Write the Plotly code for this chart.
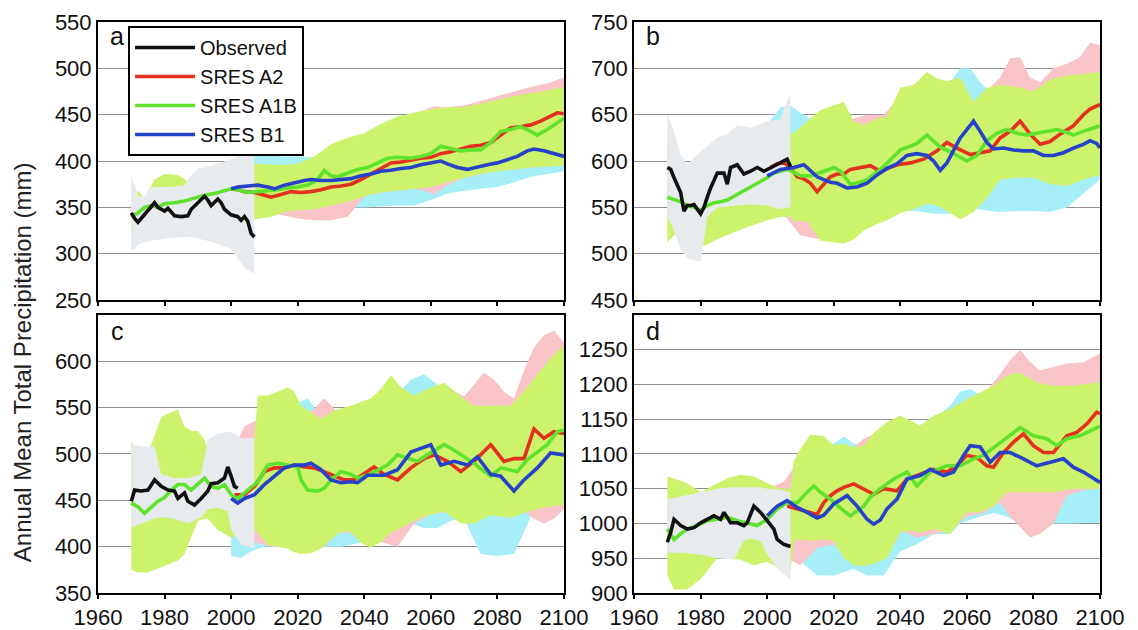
import plotly.graph_objects as go
from plotly.subplots import make_subplots

# ---------------- tick labels ----------------
x_ticks = [1960, 1980, 2000, 2020, 2040, 2060, 2080, 2100]
a_yticks = [250, 300, 350, 400, 450, 500, 550]
b_yticks = [450, 500, 550, 600, 650, 700, 750]
c_yticks = [350, 400, 450, 500, 550, 600]
d_yticks = [900, 950, 1000, 1050, 1100, 1150, 1200, 1250]
series_names = ["Observed", "SRES A2", "SRES A1B", "SRES B1"]

# ================= PANEL a =================
a_obs_yr = [1970,1971,1972,1974,1976,1977,1978,1980,1981,1983,1985,1987,1988,1990,1992,1993,1994,1996,1997,1998,2000,2002,2003,2004,2005,2006,2007]
a_obs = [344,338,334,342,350,355,350,346,349,341,340,341,348,355,362,358,352,359,355,348,342,340,336,340,335,322,318]
a_a1b_yr = [1970,1972,1974,1976,1978,1980,1983,1986,1989,1992,1995,1998,2000,2002,2005,2008,2011,2014,2017,2020,2023,2026,2028,2030,2032,2035,2038,2041,2044,2047,2050,2054,2057,2060,2063,2066,2069,2072,2075,2078,2081,2084,2087,2090,2092,2095,2098,2100]
a_a1b = [340,344,350,352,350,354,355,357,360,363,365,368,370,369,366,367,368,369,371,372,374,380,390,384,383,387,391,393,398,403,404,403,405,408,416,413,411,412,412,420,432,434,437,432,428,434,441,446]
a_a2_yr = [2000,2002,2004,2007,2010,2012,2015,2018,2021,2024,2027,2030,2033,2036,2039,2042,2045,2048,2051,2054,2057,2060,2063,2066,2069,2072,2075,2078,2081,2084,2087,2090,2093,2096,2098,2100]
a_a2 = [370,369,367,366,363,361,364,367,366,367,369,372,373,375,380,386,393,398,399,401,403,404,408,410,413,416,417,420,428,436,437,439,443,448,452,451]
a_b1_yr = [2000,2002,2005,2008,2011,2013,2016,2019,2022,2024,2027,2030,2033,2036,2039,2042,2045,2048,2051,2054,2057,2060,2063,2065,2068,2071,2074,2077,2080,2083,2086,2089,2091,2094,2097,2100]
a_b1 = [370,372,373,374,372,370,374,377,379,380,379,379,380,381,384,386,389,390,392,393,396,398,400,397,393,391,394,396,398,402,405,411,413,411,408,405]

a_gray_yr = [1970,1971,1972,1974,1976,1978,1982,1986,1988,1990,1995,2000,2004,2007]
a_gray_hi = [383,375,362,362,372,372,372,374,385,392,396,402,408,405]
a_gray_lo = [303,305,310,312,314,315,317,318,318,316,312,305,285,278]
a_green_yr = [1970,1972,1974,1977,1980,1984,1987,1990,1995,2000,2004,2007,2008,2012,2016,2020,2025,2030,2035,2040,2045,2050,2055,2060,2065,2070,2075,2080,2085,2090,2095,2100]
a_green_hi = [355,368,360,380,386,385,378,380,385,395,398,398,397,396,396,397,405,418,425,430,440,448,452,456,458,458,462,466,470,473,476,480]
a_green_lo = [320,322,324,325,325,325,325,325,323,320,330,337,338,340,345,347,348,352,356,362,366,368,370,372,377,382,386,389,391,393,394,395]
a_pink_yr = [2000,2005,2010,2015,2020,2025,2030,2035,2040,2045,2050,2055,2058,2061,2064,2070,2075,2080,2085,2090,2095,2100]
a_pink_hi = [385,390,393,393,395,400,412,420,428,435,445,452,455,459,458,460,465,470,475,480,484,490]
a_pink_lo = [345,345,345,342,338,336,336,340,362,366,368,370,368,364,372,382,386,389,391,393,394,395]
a_cyan_yr = [2000,2005,2010,2015,2020,2025,2030,2035,2040,2045,2050,2055,2060,2065,2070,2075,2080,2085,2090,2095,2100]
a_cyan_hi = [400,405,406,405,405,404,405,410,415,420,425,430,432,434,436,438,440,442,444,446,448]
a_cyan_lo = [345,345,345,348,350,350,350,350,350,351,352,352,358,365,368,370,372,377,383,386,389]

# ================= PANEL b =================
b_obs_yr = [1970,1971,1972,1974,1975,1976,1977,1978,1980,1981,1982,1983,1985,1987,1988,1989,1991,1993,1995,1997,1999,2001,2003,2005,2006,2007]
b_obs = [593,591,582,566,546,552,552,553,543,550,561,571,587,587,575,593,596,586,589,593,589,593,596,600,602,594]
b_a1b_yr = [1970,1972,1974,1976,1978,1980,1982,1984,1986,1988,1990,1992,1994,1996,1998,2000,2002,2004,2006,2008,2010,2013,2016,2018,2020,2022,2025,2028,2030,2033,2035,2038,2040,2043,2045,2048,2050,2052,2055,2057,2060,2063,2066,2069,2072,2075,2078,2081,2084,2087,2090,2092,2095,2098,2100]
b_a1b = [561,559,556,552,550,547,552,555,556,558,562,566,569,573,577,582,587,589,591,588,584,584,587,590,593,589,575,577,580,588,594,605,612,616,619,628,622,615,610,606,600,606,622,630,634,630,628,630,632,634,631,628,632,635,638]
b_a2_yr = [2001,2003,2005,2007,2009,2011,2013,2015,2017,2019,2021,2023,2025,2028,2031,2034,2036,2039,2043,2047,2051,2054,2057,2061,2064,2067,2070,2073,2076,2079,2082,2085,2088,2092,2095,2097,2100]
b_a2 = [593,597,598,593,583,581,576,567,575,583,586,586,591,593,595,589,592,596,598,602,611,620,614,607,609,611,625,632,643,629,618,621,629,638,650,656,661]
b_b1_yr = [2000,2002,2004,2006,2008,2011,2013,2015,2017,2019,2021,2024,2027,2030,2033,2036,2039,2042,2045,2048,2050,2052,2054,2056,2058,2060,2062,2064,2066,2068,2071,2074,2077,2080,2083,2086,2089,2092,2095,2097,2099,2100]
b_b1 = [584,588,591,592,593,596,590,583,580,577,576,571,572,576,585,592,597,606,608,606,600,590,598,612,625,634,643,632,620,613,614,612,611,611,606,606,609,614,618,622,619,614]

b_gray_yr = [1970,1972,1974,1976,1978,1980,1982,1985,1988,1991,1995,2000,2004,2006,2007]
b_gray_hi = [650,632,607,596,604,610,615,625,629,639,636,643,645,665,672]
b_gray_lo = [540,525,505,495,493,492,540,550,551,552,553,552,548,550,550]
b_green_yr = [1970,1972,1975,1978,1980,1982,1985,1990,1995,2000,2004,2007,2008,2012,2016,2020,2023,2026,2029,2033,2036,2040,2044,2048,2051,2054,2058,2062,2066,2070,2075,2080,2085,2090,2095,2100]
b_green_hi = [620,610,590,595,600,605,610,620,620,625,628,630,630,643,655,660,664,643,639,646,648,679,682,696,689,686,690,664,679,682,680,675,688,692,694,696]
b_green_lo = [512,520,525,520,507,510,516,523,530,536,540,540,535,535,514,512,511,515,525,532,536,544,548,554,552,546,537,545,560,580,582,582,575,573,580,585]
b_pink_yr = [2000,2005,2010,2015,2020,2025,2030,2035,2040,2045,2050,2055,2060,2065,2070,2073,2076,2079,2082,2086,2090,2094,2097,2100]
b_pink_hi = [620,625,632,648,652,645,650,650,670,675,685,680,660,672,690,711,712,690,685,700,705,712,728,725]
b_pink_lo = [545,542,520,516,518,520,530,540,548,552,556,552,545,565,585,585,585,585,585,580,578,582,585,588]
b_cyan_yr = [2000,2004,2007,2010,2013,2016,2020,2025,2030,2035,2040,2045,2050,2055,2058,2061,2064,2067,2070,2075,2080,2085,2090,2095,2100]
b_cyan_hi = [640,658,660,652,645,650,655,640,635,640,670,675,680,685,700,700,685,675,675,672,670,680,685,688,690]
b_cyan_lo = [545,540,540,540,540,535,530,530,538,544,546,546,543,543,545,548,548,546,545,546,546,545,550,565,580]

# ================= PANEL c =================
c_obs_yr = [1970,1971,1973,1975,1977,1979,1981,1983,1984,1986,1987,1989,1991,1993,1994,1996,1998,1999,2000,2001,2002]
c_obs = [449,461,460,461,472,465,461,460,452,458,449,445,452,460,468,469,474,486,476,465,463]
c_a1b_yr = [1970,1972,1974,1976,1978,1980,1982,1984,1986,1988,1990,1992,1994,1996,1998,2000,2002,2005,2008,2011,2014,2017,2020,2021,2023,2026,2028,2030,2033,2036,2038,2041,2044,2047,2050,2053,2056,2059,2062,2064,2067,2070,2073,2075,2078,2081,2084,2086,2089,2092,2095,2098,2100]
c_a1b = [447,443,436,442,449,453,461,467,467,461,467,474,465,463,467,456,452,461,470,488,490,488,486,472,461,460,463,472,481,478,474,477,483,488,499,495,492,499,505,510,504,497,490,484,476,485,482,481,494,502,510,524,526]
c_a2_yr = [2001,2004,2007,2010,2013,2016,2019,2022,2025,2028,2031,2034,2037,2040,2043,2046,2050,2054,2058,2061,2065,2069,2073,2078,2082,2085,2088,2091,2094,2097,2100]
c_a2 = [456,456,465,481,485,485,488,486,485,481,476,472,472,479,486,478,472,485,495,499,492,481,492,510,492,495,495,527,517,524,522]
c_b1_yr = [2000,2002,2004,2007,2010,2013,2016,2019,2022,2024,2027,2030,2033,2036,2038,2041,2046,2050,2054,2057,2060,2063,2067,2071,2074,2078,2081,2085,2088,2092,2096,2100]
c_b1 = [452,447,452,456,467,476,485,488,488,490,483,472,469,470,469,477,477,483,502,506,510,488,492,488,497,478,476,460,472,485,501,499]

c_gray_yr = [1970,1973,1977,1979,1983,1987,1991,1993,1996,1999,2000,2003,2007]
c_gray_hi = [511,508,508,478,474,474,478,515,522,524,524,517,517]
c_gray_lo = [420,425,430,432,430,425,432,440,442,438,418,402,398]
c_green_yr = [1970,1972,1975,1977,1979,1982,1984,1986,1988,1990,1992,1993,1996,2000,2004,2007,2008,2011,2014,2017,2019,2021,2024,2027,2030,2033,2036,2039,2042,2045,2048,2051,2055,2059,2064,2069,2073,2078,2084,2089,2094,2097,2100]
c_green_hi = [513,505,500,520,540,545,548,530,525,525,515,505,505,515,515,515,563,563,567,572,567,552,545,538,545,549,552,556,560,570,585,572,563,570,577,562,552,552,552,572,595,607,617]
c_green_lo = [375,372,372,375,378,382,385,392,410,428,430,430,418,410,415,418,415,402,400,398,394,392,393,398,408,416,416,404,399,405,415,420,428,434,438,425,425,434,431,438,442,444,445]
c_pink_yr = [2000,2004,2007,2012,2016,2020,2024,2028,2032,2036,2040,2045,2050,2055,2060,2065,2070,2073,2076,2079,2082,2085,2088,2091,2094,2097,2100]
c_pink_hi = [500,530,535,545,550,550,545,560,545,550,555,565,570,560,565,572,562,575,588,580,567,560,590,615,628,633,620]
c_pink_lo = [420,405,405,400,400,395,395,400,415,415,402,405,400,425,435,438,425,425,435,434,432,432,438,430,425,430,440]
c_cyan_yr = [2000,2003,2006,2010,2015,2020,2023,2026,2030,2033,2036,2040,2045,2050,2054,2058,2062,2066,2070,2075,2080,2085,2090,2095,2100]
c_cyan_hi = [495,505,515,540,545,555,560,545,535,540,545,550,555,565,580,586,575,560,550,560,565,548,560,580,600]
c_cyan_lo = [390,388,395,400,400,396,394,400,400,400,402,405,410,418,425,420,420,428,430,392,390,392,432,440,445]

# ================= PANEL d =================
d_obs_yr = [1970,1971,1972,1974,1976,1978,1980,1982,1984,1986,1987,1989,1991,1993,1994,1996,1998,2000,2002,2003,2005,2007]
d_obs = [973,987,1006,997,992,994,1001,1006,1011,1006,1016,1001,1001,997,1001,1025,1016,1004,992,977,970,967]
d_a1b_yr = [1970,1972,1974,1976,1979,1982,1985,1988,1991,1994,1997,2000,2003,2006,2009,2012,2014,2016,2019,2022,2025,2029,2031,2034,2038,2042,2045,2049,2054,2058,2062,2065,2069,2073,2076,2080,2084,2087,2090,2094,2099,2100]
d_a1b = [992,977,985,992,997,1004,1006,1009,1004,1001,997,1006,1021,1030,1030,1045,1054,1045,1035,1022,1011,1025,1038,1050,1064,1074,1054,1074,1083,1083,1093,1098,1112,1126,1138,1126,1122,1112,1122,1126,1138,1140]
d_a2_yr = [2006,2009,2012,2015,2017,2019,2021,2023,2026,2029,2032,2035,2039,2042,2046,2050,2054,2057,2060,2063,2066,2068,2071,2074,2077,2080,2083,2086,2090,2093,2096,2099,2100]
d_a2 = [1025,1021,1016,1013,1030,1040,1047,1052,1057,1050,1042,1050,1047,1064,1071,1078,1074,1083,1098,1095,1083,1081,1102,1117,1129,1112,1102,1102,1126,1131,1143,1160,1158]
d_b1_yr = [2000,2003,2006,2009,2012,2015,2017,2020,2024,2027,2030,2032,2034,2036,2039,2042,2046,2049,2053,2056,2059,2061,2064,2067,2070,2073,2077,2081,2085,2089,2092,2095,2098,2100]
d_b1 = [1011,1025,1033,1023,1016,1008,1012,1028,1040,1025,1006,999,1005,1021,1035,1064,1069,1078,1069,1074,1098,1112,1110,1088,1102,1102,1093,1083,1088,1093,1081,1074,1065,1059]

d_gray_yr = [1970,1975,1980,1985,1990,1993,1995,1998,2000,2004,2007]
d_gray_hi = [1035,1040,1045,1050,1052,1052,1052,1052,1050,1048,1045]
d_gray_lo = [958,958,955,950,948,975,978,975,955,930,920]
d_green_yr = [1970,1972,1976,1980,1985,1988,1992,1996,2000,2004,2007,2008,2010,2013,2017,2020,2023,2026,2029,2032,2036,2040,2043,2046,2050,2055,2060,2064,2068,2072,2076,2081,2086,2092,2100]
d_green_hi = [1068,1065,1058,1045,1058,1065,1070,1068,1058,1050,1050,1090,1107,1128,1126,1112,1115,1110,1112,1130,1146,1155,1148,1141,1155,1165,1179,1189,1198,1213,1217,1203,1198,1198,1203]
d_green_lo = [925,905,905,920,950,950,948,940,945,935,930,975,977,975,977,975,950,940,939,942,950,987,990,987,992,985,1016,1016,1025,1045,1045,1045,1045,1050,1050]
d_pink_yr = [2000,2005,2008,2010,2015,2020,2025,2029,2035,2040,2045,2050,2055,2060,2065,2070,2073,2076,2079,2082,2086,2090,2095,2100]
d_pink_hi = [1050,1060,1080,1100,1115,1108,1105,1122,1135,1145,1140,1150,1160,1170,1185,1215,1235,1250,1232,1220,1225,1230,1232,1245]
d_pink_lo = [960,950,945,940,965,970,945,945,955,990,980,985,990,1010,1015,1030,1010,995,980,985,1000,1040,1048,1050]
d_cyan_yr = [2000,2005,2010,2015,2020,2023,2026,2030,2035,2040,2045,2050,2055,2058,2061,2064,2068,2072,2076,2080,2085,2090,2095,2100]
d_cyan_hi = [1045,1055,1095,1110,1115,1125,1115,1110,1130,1145,1135,1150,1170,1190,1193,1185,1190,1200,1205,1195,1190,1190,1195,1195]
d_cyan_lo = [960,960,945,925,925,930,935,925,925,960,970,985,985,1000,1005,1010,1015,1010,1000,1005,1000,1000,1000,1001]

# ---------------- styling ----------------
PINK = "#f9c4c7"
CYAN = "#a6eef8"
GREEN_FILL = "#cdf36c"
GRAY_FILL = "#e7ebee"
RED = "#e3301f"
GREEN_LINE = "#5fe22c"
BLUE = "#2642c8"
BLACK = "#111111"
FONT = "Liberation Sans, Arial, sans-serif"

fig = make_subplots(rows=2, cols=2, horizontal_spacing=0.07, vertical_spacing=0.026)


def band(yr, lo, hi, color, row, col):
    fig.add_trace(go.Scatter(x=yr + yr[::-1], y=hi + lo[::-1], fill="toself",
                             fillcolor=color, line=dict(width=0), mode="lines",
                             hoverinfo="skip", showlegend=False), row=row, col=col)


def line(yr, vals, color, name, rank, row, col, show):
    fig.add_trace(go.Scatter(x=yr, y=vals, mode="lines", name=name,
                             line=dict(color=color, width=3.6), legendrank=rank,
                             legendgroup=name, showlegend=show), row=row, col=col)


panels = [
    (1, 1, [250, 550], a_yticks,
     (a_cyan_yr, a_cyan_lo, a_cyan_hi), (a_pink_yr, a_pink_lo, a_pink_hi),
     (a_green_yr, a_green_lo, a_green_hi), (a_gray_yr, a_gray_lo, a_gray_hi),
     (a_a2_yr, a_a2), (a_a1b_yr, a_a1b), (a_b1_yr, a_b1), (a_obs_yr, a_obs)),
    (1, 2, [450, 750], b_yticks,
     (b_cyan_yr, b_cyan_lo, b_cyan_hi), (b_pink_yr, b_pink_lo, b_pink_hi),
     (b_green_yr, b_green_lo, b_green_hi), (b_gray_yr, b_gray_lo, b_gray_hi),
     (b_a2_yr, b_a2), (b_a1b_yr, b_a1b), (b_b1_yr, b_b1), (b_obs_yr, b_obs)),
    (2, 1, [350, 650], c_yticks,
     (c_cyan_yr, c_cyan_lo, c_cyan_hi), (c_pink_yr, c_pink_lo, c_pink_hi),
     (c_green_yr, c_green_lo, c_green_hi), (c_gray_yr, c_gray_lo, c_gray_hi),
     (c_a2_yr, c_a2), (c_a1b_yr, c_a1b), (c_b1_yr, c_b1), (c_obs_yr, c_obs)),
    (2, 2, [900, 1300], d_yticks,
     (d_cyan_yr, d_cyan_lo, d_cyan_hi), (d_pink_yr, d_pink_lo, d_pink_hi),
     (d_green_yr, d_green_lo, d_green_hi), (d_gray_yr, d_gray_lo, d_gray_hi),
     (d_a2_yr, d_a2), (d_a1b_yr, d_a1b), (d_b1_yr, d_b1), (d_obs_yr, d_obs)),
]

for (row, col, yr_range, yticks, cyan, pink, green, gray,
     a2, a1b, b1, obs) in panels:
    show = (row == 1 and col == 1)
    band(*cyan, CYAN, row, col)
    band(*pink, PINK, row, col)
    band(*green, GREEN_FILL, row, col)
    band(*gray, GRAY_FILL, row, col)
    line(*a2, RED, series_names[1], 2, row, col, show)
    line(*a1b, GREEN_LINE, series_names[2], 3, row, col, show)
    line(*b1, BLUE, series_names[3], 4, row, col, show)
    line(*obs, BLACK, series_names[0], 1, row, col, show)

    fig.update_xaxes(range=[1960, 2100], tickvals=x_ticks, ticks="outside",
                     ticklen=4, tickwidth=2, tickcolor="black",
                     showticklabels=(row == 2), showgrid=False, zeroline=False,
                     showline=True, linecolor="black", linewidth=2, mirror=True,
                     automargin=False, ticklabeloverflow="allow",
                     tickfont=dict(size=22, color="#111", family=FONT),
                     row=row, col=col)
    fig.update_yaxes(range=yr_range, tickvals=yticks, ticks="",
                     showgrid=True, gridcolor="#8f8f8f", gridwidth=1.3,
                     zeroline=False, showline=True, linecolor="black",
                     linewidth=2, mirror=True, automargin=False,
                     ticklabeloverflow="allow",
                     tickfont=dict(size=22, color="#111", family=FONT),
                     row=row, col=col)

# panel letters
for letter, xp, yp in [("a", 0.019, 0.976), ("b", 0.554, 0.976),
                       ("c", 0.019, 0.459), ("d", 0.554, 0.459)]:
    fig.add_annotation(text=letter, x=xp, y=yp, xref="paper", yref="paper",
                       xanchor="center", yanchor="middle", showarrow=False,
                       font=dict(size=25, color="#111", family=FONT))

fig.add_annotation(text="Annual Mean Total Precipitation (mm)", textangle=-90,
                   x=-0.076, y=0.404, xref="paper", yref="paper",
                   xanchor="center", yanchor="middle", showarrow=False,
                   font=dict(size=24, color="#222", family=FONT))

# the page body adds an 8 px offset, so the figure is sized to fit the window
fig.update_layout(
    width=1130, height=622,
    margin=dict(l=90, r=38, t=14, b=37, autoexpand=False),
    paper_bgcolor="white", plot_bgcolor="white",
    font=dict(family=FONT, color="#111"),
    showlegend=True,
    legend=dict(x=0.03, y=0.993, xanchor="left", yanchor="top",
                bgcolor="white", bordercolor="black", borderwidth=2,
                font=dict(size=20, family=FONT, color="#111"),
                tracegroupgap=0, itemwidth=60),
)

fig.write_html("out.html")
